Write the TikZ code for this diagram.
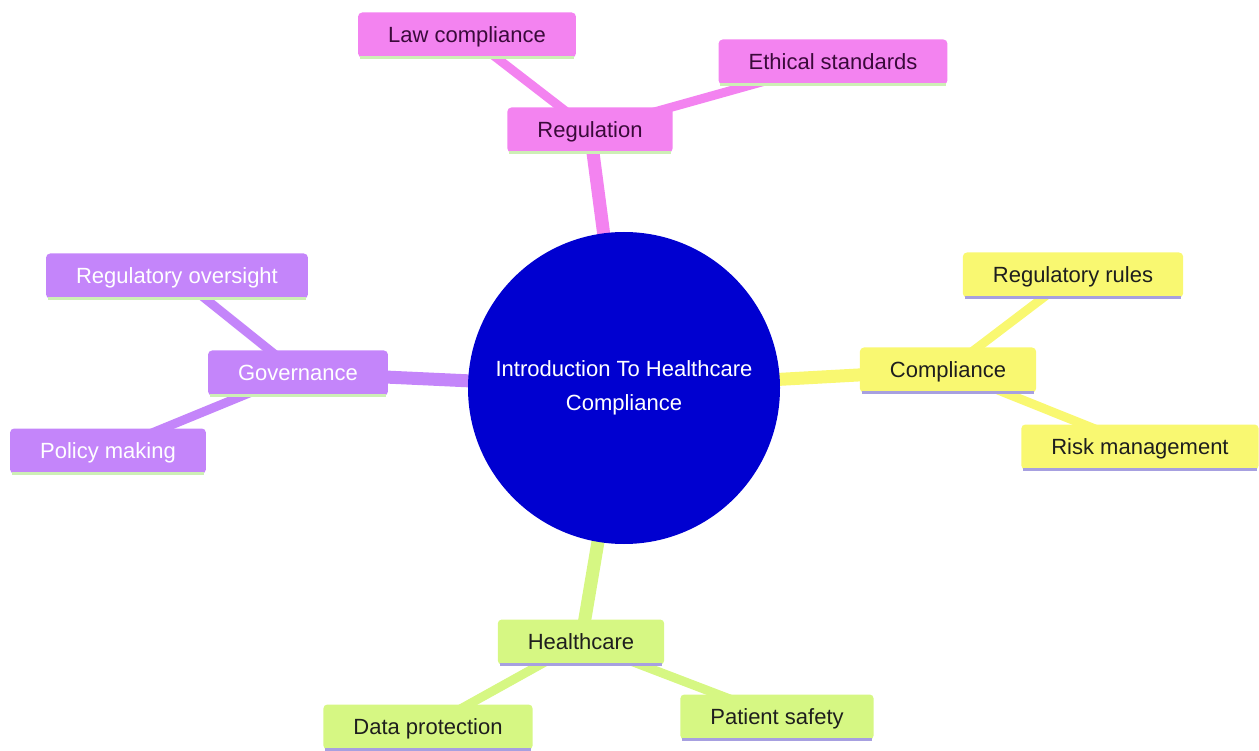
\documentclass[tikz,border=0pt]{standalone}
\usepackage{fontspec}
\setmainfont{Liberation Sans}
\usetikzlibrary{backgrounds}
\definecolor{rootblue}{HTML}{0000D0}
\definecolor{regpink}{HTML}{F383F0}
\definecolor{govpurple}{HTML}{C485FA}
\definecolor{compyellow}{HTML}{F9F871}
\definecolor{healgreen}{HTML}{D6F783}
\definecolor{mintline}{HTML}{CDEFB5}
\definecolor{lavline}{HTML}{A7A0E0}
\definecolor{pinktext}{HTML}{3A0A3A}
\definecolor{darktext}{HTML}{1E1E1E}
\begin{document}
\begin{tikzpicture}[x=1pt,y=-1pt,
    box/.style={rounded corners=4pt,inner xsep=30pt,inner ysep=0pt,
      text height=15.8pt,text depth=0pt,
      minimum height=45pt,font=\fontsize{22}{26}\selectfont},
    uline/.style={append after command={
      ([xshift=2pt]\tikzlastnode.south west)
        edge[draw=#1,line width=3pt,rounded corners=0pt]
      ([xshift=-2pt]\tikzlastnode.south east)}},
    reg/.style={box,fill=regpink,text=pinktext,uline=mintline},
    gov/.style={box,fill=govpurple,text=white,uline=mintline},
    comp/.style={box,fill=compyellow,text=darktext,uline=lavline},
    heal/.style={box,fill=healgreen,text=darktext,uline=lavline},
    trunk/.style={draw=#1,line width=13pt},
    twig/.style={draw=#1,line width=9pt}]
  \useasboundingbox (0,0) rectangle (1259,751);

  \node[circle,fill=rootblue,minimum size=312pt,text=white,align=center,
    font=\fontsize{22}{34}\selectfont] (root) at (624,388)
    {Introduction To Healthcare\\Compliance};

  \node[reg] (reg) at (590,130) {Regulation};
  \node[reg] (law) at (467,35) {Law compliance};
  \node[reg] (eth) at (833,62) {Ethical standards};

  \node[comp] (comp) at (948,370) {Compliance};
  \node[comp] (rules) at (1073,275) {Regulatory rules};
  \node[comp] (risk) at (1140,447) {Risk management};

  \node[gov] (gov) at (298,373) {Governance};
  \node[gov] (over) at (177,276) {Regulatory oversight};
  \node[gov] (pol) at (108,451) {Policy making};

  \node[heal] (heal) at (581,642) {Healthcare};
  \node[heal] (data) at (428,727) {Data protection};
  \node[heal] (safe) at (777,717) {Patient safety};

  \begin{scope}[on background layer]
    \draw[trunk=regpink] (root.center) -- (reg.center);
    \draw[trunk=compyellow] (root.center) -- (comp.center);
    \draw[trunk=govpurple] (root.center) -- (gov.center);
    \draw[trunk=healgreen] (root.center) -- (heal.center);
    \draw[twig=regpink] (reg.center) -- (law.center);
    \draw[twig=regpink] (reg.center) -- (eth.center);
    \draw[twig=compyellow] (comp.center) -- (rules.center);
    \draw[twig=compyellow] (comp.center) -- (risk.center);
    \draw[twig=govpurple] (gov.center) -- (over.center);
    \draw[twig=govpurple] (gov.center) -- (pol.center);
    \draw[twig=healgreen] (heal.center) -- (data.center);
    \draw[twig=healgreen] (heal.center) -- (safe.center);
  \end{scope}
\end{tikzpicture}
\end{document}
